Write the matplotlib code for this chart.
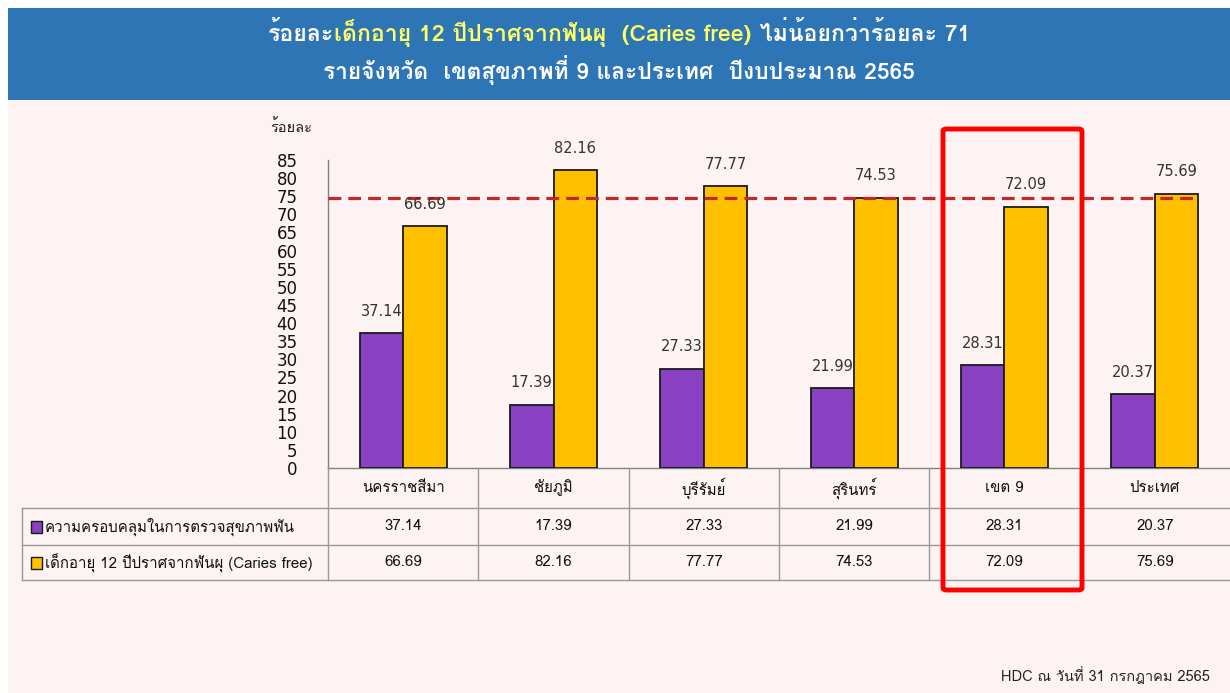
import matplotlib
matplotlib.use("Agg")
import matplotlib.pyplot as plt
from matplotlib import font_manager as fm
from matplotlib.ft2font import FT2Font
from matplotlib.patches import Rectangle, FancyBboxPatch
from matplotlib.lines import Line2D
import numpy as np

# ---------------- data ----------------
categories = ["นครราชสีมา", "ชัยภูมิ", "บุรีรัมย์", "สุรินทร์", "เขต 9", "ประเทศ"]
coverage = [37.14, 17.39, 27.33, 21.99, 28.31, 20.37]
caries_free = [66.69, 82.16, 77.77, 74.53, 72.09, 75.69]
series_names = ["ความครอบคลุมในการตรวจสุขภาพฟัน", "เด็กอายุ 12 ปีปราศจากฟันผุ (Caries free)"]
target_line = 74.5
yticks = list(range(0, 90, 5))
y_label = "ร้อยละ"
title1_parts = ["ร้อยละ", "เด็กอายุ 12 ปีปราศจากฟันผุ  (Caries free)", " ไม่น้อยกว่าร้อยละ 71"]
title2 = "รายจังหวัด  เขตสุขภาพที่ 9 และประเทศ  ปีงบประมาณ 2565"
footer = "HDC ณ วันที่ 31 กรกฎาคม 2565"

# ---------------- fonts ----------------
thai_font = None
preferred = []
for f in fm.fontManager.ttflist:
    try:
        cm = FT2Font(f.fname).get_charmap()
    except Exception:
        continue
    if 0x0E2D in cm and 0x0E49 in cm and 0x0E1F in cm:
        preferred.append(f.name)
if preferred:
    pri = [n for n in preferred if "Sans" in n or "Tahoma" in n or "Loma" in n]
    thai_font = (pri or preferred)[0]
fam = ([thai_font] if thai_font else []) + ["DejaVu Sans"]
plt.rcParams["font.family"] = fam

W, H = 1230, 693
fig = plt.figure(figsize=(W / 100, H / 100), dpi=100)
bg = "#FCF3F2"
fig.patch.set_facecolor("white")

def fx(px):
    return px / W

def fy(py):
    return 1 - py / H

# background panel and banner
fig.add_artist(Rectangle((fx(8), 0), fx(W - 8), fy(8), transform=fig.transFigure,
                         facecolor=bg, edgecolor="none", zorder=0))
fig.add_artist(Rectangle((fx(8), fy(100)), fx(W - 8), (100 - 8) / H, transform=fig.transFigure,
                         facecolor="#2E75B6", edgecolor="none", zorder=1))

# ---------------- axes ----------------
ax_left, ax_right = 328, 1230
ax_bottom, ax_top = 468, 160
ax = fig.add_axes([fx(ax_left), fy(ax_bottom), fx(ax_right - ax_left), (ax_bottom - ax_top) / H])
ax.set_facecolor("none")
x = np.arange(len(categories))
bw = 0.29
c_purple = "#8A40C2"
c_yellow = "#FFC000"
ax.bar(x - bw / 2, coverage, bw, color=c_purple, edgecolor="#1a1a1a", linewidth=1.3, zorder=3)
ax.bar(x + bw / 2, caries_free, bw, color=c_yellow, edgecolor="#1a1a1a", linewidth=1.3, zorder=3)
for i in range(len(categories)):
    ax.text(x[i] - bw / 2, coverage[i] + 4.0, f"{coverage[i]:.2f}", ha="center", va="bottom",
            fontsize=10.5, color="#333333", family="DejaVu Sans", zorder=5)
    ax.text(x[i] + bw / 2, caries_free[i] + 4.0, f"{caries_free[i]:.2f}", ha="center", va="bottom",
            fontsize=10.5, color="#333333", family="DejaVu Sans", zorder=5)
ax.plot([-0.5, 5.27], [target_line, target_line], color="#C0282A", linestyle=(0, (4, 2.2)),
        linewidth=2.3, zorder=4)
ax.set_xlim(-0.5, 5.5)
ax.set_ylim(0, 85)
ax.set_yticks(yticks)
ax.set_yticklabels([str(v) for v in yticks], fontsize=12, family="DejaVu Sans")
ax.tick_params(axis="y", length=0, pad=22, colors="#111111")
ax.set_xticks([])
for s in ["top", "right"]:
    ax.spines[s].set_visible(False)
ax.spines["left"].set_color("#808080")
ax.spines["bottom"].set_color("#808080")
ax.spines["left"].set_linewidth(1)
ax.spines["bottom"].set_linewidth(1)

fig.text(fx(270), fy(127), y_label, fontsize=10.5, color="#222222", ha="left", va="center")

# ---------------- data table ----------------
grid_c = "#999999"
row_y = [468, 508, 545, 580]
col_x = [ax_left + (ax_right - ax_left) / 6 * i for i in range(7)]
left_x = 22

def hline(y, x0, x1):
    fig.add_artist(Line2D([fx(x0), fx(x1)], [fy(y), fy(y)], transform=fig.transFigure,
                          color=grid_c, linewidth=1, zorder=2))

def vline(xp, y0, y1):
    fig.add_artist(Line2D([fx(xp), fx(xp)], [fy(y0), fy(y1)], transform=fig.transFigure,
                          color=grid_c, linewidth=1, zorder=2))

hline(row_y[1], left_x, W)
hline(row_y[2], left_x, W)
hline(row_y[3], left_x, W)
vline(left_x, row_y[1], row_y[3])
for cxp in col_x[:-1]:
    vline(cxp, row_y[0], row_y[3])

for i, cat in enumerate(categories):
    cx = (col_x[i] + col_x[i + 1]) / 2
    fig.text(fx(cx), fy((row_y[0] + row_y[1]) / 2), cat, ha="center", va="center", fontsize=10.8, color="#111111")
    fig.text(fx(cx), fy((row_y[1] + row_y[2]) / 2), f"{coverage[i]:.2f}", ha="center", va="center",
             fontsize=10.8, color="#111111")
    fig.text(fx(cx), fy((row_y[2] + row_y[3]) / 2), f"{caries_free[i]:.2f}", ha="center", va="center",
             fontsize=10.8, color="#111111")

for r, (name, col) in enumerate(zip(series_names, [c_purple, c_yellow])):
    yc = (row_y[r + 1] + row_y[r + 2]) / 2
    fig.add_artist(Rectangle((fx(31), fy(yc + 6)), fx(11), 12 / H, transform=fig.transFigure,
                             facecolor=col, edgecolor="#1a1a1a", linewidth=1, zorder=3))
    fig.text(fx(45), fy(yc), name, ha="left", va="center", fontsize=10.8, color="#111111")

# highlight box
fig.add_artist(FancyBboxPatch((fx(943), fy(590)), fx(1082 - 943), (590 - 129) / H,
                              boxstyle="round,pad=0,rounding_size=0.003", transform=fig.transFigure,
                              facecolor="none", edgecolor="#FF0000", linewidth=3.5, zorder=6))

# footer
fig.text(fx(1210), fy(675), footer, ha="right", va="center", fontsize=10.5, color="#222222")

# ---------------- title ----------------
fig.canvas.draw()
r = fig.canvas.get_renderer()
colors1 = ["white", "#FFFF66", "white"]
texts = []
for part, col in zip(title1_parts, colors1):
    t = fig.text(0, fy(33), part, ha="left", va="center", fontsize=16.6, fontweight="bold",
                 color=col, zorder=3)
    texts.append(t)
widths = [t.get_window_extent(r).width for t in texts]
total = sum(widths)
start = 619 - total / 2
for t, w in zip(texts, widths):
    t.set_x(fx(start))
    start += w
fig.text(fx(619), fy(70), title2, ha="center", va="center", fontsize=16.4, fontweight="bold",
         color="white", zorder=3)

fig.savefig("out.png", dpi=100, facecolor=fig.get_facecolor())
